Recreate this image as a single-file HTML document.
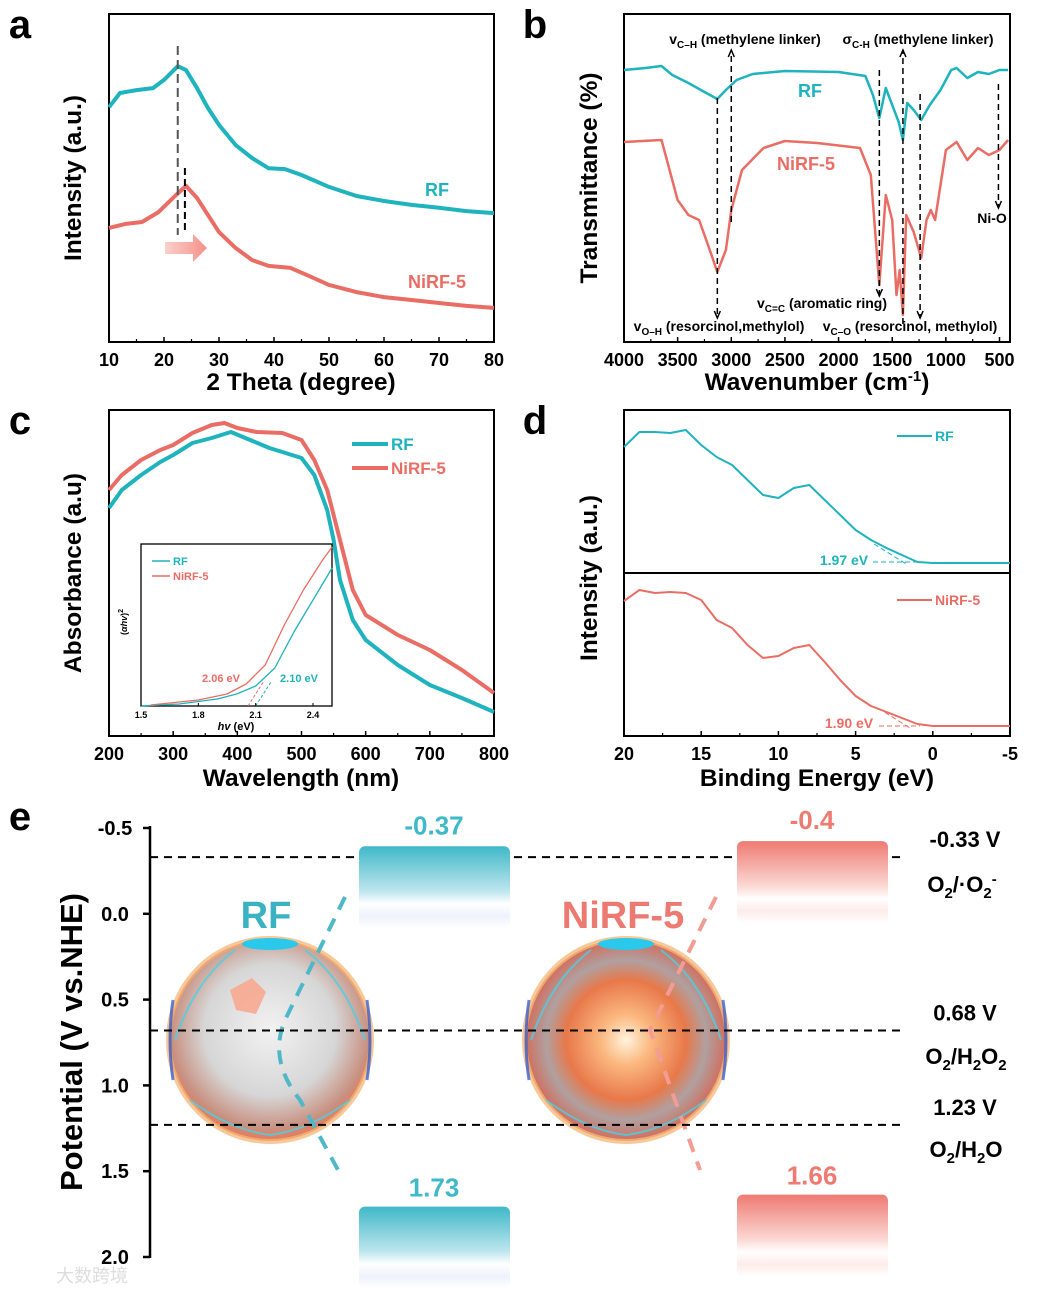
<!DOCTYPE html>
<html><head><meta charset="utf-8"><style>
html,body{margin:0;padding:0;background:#fff}
svg{display:block;font-family:"Liberation Sans",Arial,sans-serif}
</style></head><body>
<svg id="fig" width="1040" height="1293" viewBox="0 0 1040 1293" xmlns="http://www.w3.org/2000/svg">
<defs>
<linearGradient id="gTeal" x1="0" y1="0" x2="0" y2="1"><stop offset="0" stop-color="#3fb8c8"/><stop offset="0.55" stop-color="#bfe6ee"/><stop offset="0.7" stop-color="#ffffff"/><stop offset="0.85" stop-color="#eef2fb"/><stop offset="1" stop-color="#ffffff"/></linearGradient>
<linearGradient id="gRed" x1="0" y1="0" x2="0" y2="1"><stop offset="0" stop-color="#ee7a72"/><stop offset="0.55" stop-color="#fbd9d5"/><stop offset="0.7" stop-color="#ffffff"/><stop offset="0.85" stop-color="#fdecea"/><stop offset="1" stop-color="#ffffff"/></linearGradient>
<radialGradient id="gSph" cx="0.5" cy="0.45" r="0.55"><stop offset="0" stop-color="#f2f2f2"/><stop offset="0.6" stop-color="#d6d6d6"/><stop offset="0.9" stop-color="#c89080"/><stop offset="1" stop-color="#e87a5a"/></radialGradient>
<radialGradient id="gSph2" cx="0.5" cy="0.5" r="0.5"><stop offset="0" stop-color="#fff3dc"/><stop offset="0.25" stop-color="#fbb880"/><stop offset="0.6" stop-color="#e8784a"/><stop offset="0.8" stop-color="#b0a0a0"/><stop offset="1" stop-color="#d07060"/></radialGradient>
<linearGradient id="gArrow" x1="0" x2="1"><stop offset="0" stop-color="#fbd0cc"/><stop offset="1" stop-color="#f4918a"/></linearGradient>
</defs>
</svg>
<script>
// ---------- data (panel a: XRD) ----------
const xrdTheta = [10,12,15,18,20,22.5,24,26,28,30,33,36,39,42,45,50,55,60,65,70,75,80];
const xrdRF    = [71.6,75.9,76.8,77.4,79.9,84.1,82.9,77.4,71.3,66.2,60.1,56.1,53.0,52.7,50.9,47.3,44.5,43.0,41.8,40.9,39.9,39.3];
const xrdThetaN= [10,13,16,19,22,24,26,28,30,33,36,39,43,46,50,55,60,65,70,75,80];
const xrdNiRF  = [34.8,36.0,36.6,39.6,44.5,47.6,43.9,38.7,33.5,28.7,25.0,23.2,22.6,20.4,17.4,15.2,13.7,12.8,11.9,11.0,10.4];
const xrdTicks = [10,20,30,40,50,60,70,80];
// ---------- panel b: FTIR ----------
const irWnRF = [4000,3800,3650,3550,3400,3250,3130,3050,2950,2800,2500,2000,1750,1680,1620,1560,1500,1440,1400,1360,1300,1230,1150,1050,950,900,800,700,600,500,420];
const irRF   = [272,274,276,267,259,250,243,252,262,268,271,270,266,247,224,254,237,220,202,239,232,222,237,252,272,274,264,270,268,272,272];
const irWnN  = [4000,3650,3600,3500,3400,3300,3200,3130,3050,3000,2900,2700,2500,2200,1800,1700,1620,1560,1500,1460,1430,1400,1370,1300,1230,1180,1140,1100,1000,900,800,700,600,500,420];
const irNiRF = [200,202,182,142,127,122,92,70,92,132,172,194,201,199,194,167,57,147,122,47,72,27,127,110,84,122,132,122,192,200,182,194,187,192,202];
const irTicks = [4000,3500,3000,2500,2000,1500,1000,500];
// ---------- panel c: UV-vis ----------
const uvNm   = [200,220,250,280,300,330,360,390,420,450,470,500,520,540,550,560,580,600,650,700,750,800];
const uvRF   = [228,246,261,274,281,293,298,304,296,288,284,278,261,226,196,156,116,96,71,51,38,24];
const uvNmN  = [200,220,250,280,300,330,360,380,400,430,470,500,520,540,560,580,600,650,700,750,800];
const uvNiRF = [246,261,276,286,291,303,311,313,308,304,303,296,276,246,196,146,121,101,86,66,43];
const uvTicks = [200,300,400,500,600,700,800];
// inset Tauc
const taucE   = [1.5,1.7,1.9,2.0,2.1,2.2,2.3,2.4,2.5];
const taucRF  = [0,2,7,12,20,38,74,106,138];
const taucEN  = [1.55,1.8,1.95,2.05,2.15,2.25,2.35,2.45,2.5];
const taucNiRF= [1,6,12,22,41,81,116,146,159];
const taucTicks = [1.5,1.8,2.1,2.4];
// ---------- panel d: VB-XPS ----------
const xpsBE  = [20,19,18,17,16,15,14,13,12,11,10,9,8,7,6,5,4,3,2,1,0,-5];
const xpsRF  = [289,304,304,303,306,291,279,271,256,241,238,248,251,236,221,206,196,188,181,174,173,173];
const xpsNiRF= [135,146,143,144,143,136,116,108,91,78,80,88,91,74,56,40,30,24,18,12,10,10];
const xpsTicks = [20,15,10,5,0,-5];
// ---------- panel e: band structure ----------
const bandTicks = [-0.5,0.0,0.5,1.0,1.5,2.0];
const samples = ["RF","NiRF-5"];
const cbValues = [-0.37,-0.4];
const vbValues = [1.73,1.66];
const refPotentials = [-0.33,0.68,1.23];
const refLabels = ["-0.33 V","0.68 V","1.23 V"];

const NS="http://www.w3.org/2000/svg";
const svg=document.getElementById('fig');
function mk(tag,attrs,parent){const e=document.createElementNS(NS,tag);for(const k in attrs)e.setAttribute(k,attrs[k]);(parent||svg).appendChild(e);return e;}
function txt(s,x,y,size,opt,parent){opt=opt||{};const t=mk('text',{x:x,y:y,'font-size':size,'font-weight':opt.w||'bold','text-anchor':opt.a||'middle',fill:opt.c||'#000'},parent);if(opt.tr)t.setAttribute('transform',opt.tr);if(opt.html)t.innerHTML=s;else t.textContent=s;return t;}
function lin(d0,d1,r0,r1){return v=>r0+(v-d0)*(r1-r0)/(d1-d0);}
function line(xs,ys,sx,sy,color,w,name){const d=xs.map((x,i)=>(i?'L':'M')+sx(x).toFixed(1)+','+sy(ys[i]).toFixed(1)).join('');const p=mk('path',{d:d,fill:'none',stroke:color,'stroke-width':w,'stroke-linejoin':'round'});return p;}
const TEAL='#1fb3bd', RED='#e96d64';

function frame(x0,y0,x1,y1,name){const r=mk('rect',{x:x0,y:y0,width:x1-x0,height:y1-y0,fill:'none',stroke:'#000','stroke-width':2});}
function xticks(ticks,sx,yb,size,name,minor){ticks.forEach((t,i)=>{mk('line',{x1:sx(t),x2:sx(t),y1:yb,y2:yb-5,stroke:'#000','stroke-width':1.5});const l=txt(String(t),sx(t),yb+24,size);if(minor&&i<ticks.length-1){const m=(t+ticks[i+1])/2;mk('line',{x1:sx(m),x2:sx(m),y1:yb,y2:yb-3,stroke:'#000','stroke-width':1.2});}});}
function label(s,x,y,size,opt,name){const t=txt(s,x,y,size,opt);return t;}

// ===== panel a =====
(function(){const sx=lin(10,80,109,494), sy=lin(0,100,342,14);
frame(109,14,494,342,'panel-a-frame');
line(xrdTheta,xrdRF,sx,sy,TEAL,4,'xrd-rf-line');
line(xrdThetaN,xrdNiRF,sx,sy,RED,4,'xrd-nirf-line');
mk('line',{x1:sx(22.5),x2:sx(22.5),y1:46,y2:235,stroke:'#555','stroke-width':2,'stroke-dasharray':'9,5'});
mk('line',{x1:sx(23.8),x2:sx(23.8),y1:168,y2:232,stroke:'#000','stroke-width':2,'stroke-dasharray':'7,4'});
const ar=mk('path',{d:'M165,242 h28 v-8 l14,14 l-14,14 v-8 h-28 z',fill:'url(#gArrow)'});
xticks(xrdTicks,sx,342,18,'x-tick-label-a',true);
label('2 Theta (degree)',301,390,24.5,{},'x-axis-title-a');
label('Intensity (a.u.)',81,178,24.5,{tr:'rotate(-90 81 178)'},'y-axis-title-a');
label('RF',437,196,18,{c:TEAL},'label-rf-a');
label('NiRF-5',437,288,18,{c:RED},'label-nirf-a');
label('a',20,38,40,{},'panel-label-a');
})();

// ===== panel b =====
(function(){const sx=lin(4000,500,624,999.5), sy=lin(0,328,342,14);
frame(624,14,1010,342,'panel-b-frame');
line(irWnRF,irRF,sx,sy,TEAL,2.5,'ftir-rf-line');
line(irWnN,irNiRF,sx,sy,RED,2.5,'ftir-nirf-line');
const arrows=[[3130,98,318,'down'],[3000,222,50,'up'],[1620,70,296,'down'],[1400,324,50,'up'],[1240,94,318,'down'],[510,84,208,'down']];
arrows.forEach(a=>{const x=sx(a[0]);mk('line',{x1:x,x2:x,y1:a[1],y2:a[2],stroke:'#000','stroke-width':1.5,'stroke-dasharray':'6,4'});const y=a[2];const d=a[3]=='down'?`M${x-3},${y-7} L${x},${y} L${x+3},${y-7}`:`M${x-3},${y+7} L${x},${y} L${x+3},${y+7}`;mk('path',{d:d,fill:'none',stroke:'#000','stroke-width':1.5});});
xticks(irTicks,sx,342,18,'x-tick-label-b',true);
label('Wavenumber (cm<tspan font-size="15" dy="-9">-1</tspan><tspan dy="9">)</tspan>',817,390,24.5,{html:true},'x-axis-title-b');
label('Transmittance (%)',597,178,24.5,{tr:'rotate(-90 597 178)'},'y-axis-title-b');
label('RF',810,97,18,{c:TEAL},'label-rf-b');
label('NiRF-5',806,170,18,{c:RED},'label-nirf-b');
label('v<tspan font-size="10" dy="4">C–H</tspan><tspan dy="-4"> (methylene linker)</tspan>',745,44,14,{html:true},'annotation-ch-stretch');
label('σ<tspan font-size="10" dy="4">C-H</tspan><tspan dy="-4"> (methylene linker)</tspan>',918,44,14,{html:true},'annotation-ch-bend');
label('v<tspan font-size="10" dy="4">C=C</tspan><tspan dy="-4"> (aromatic ring)</tspan>',822,308,14,{html:true},'annotation-cc');
label('v<tspan font-size="10" dy="4">O–H</tspan><tspan dy="-4"> (resorcinol,methylol)</tspan>',719,331,14,{html:true},'annotation-oh');
label('v<tspan font-size="10" dy="4">C–O</tspan><tspan dy="-4"> (resorcinol, methylol)</tspan>',910,331,14,{html:true},'annotation-co');
label('Ni-O',992,223,14,{},'annotation-nio');
label('b',535,38,40,{},'panel-label-b');
})();

// ===== panel c =====
(function(){const sx=lin(200,800,109,494), sy=lin(0,326,736,410);
frame(109,410,494,736,'panel-c-frame');
line(uvNm,uvRF,sx,sy,TEAL,4,'uv-rf-line');
line(uvNmN,uvNiRF,sx,sy,RED,4,'uv-nirf-line');
xticks(uvTicks,sx,736,18,'x-tick-label-c',true);
label('Wavelength (nm)',301,786,24.5,{},'x-axis-title-c');
label('Absorbance (a.u)',81,573,24.5,{tr:'rotate(-90 81 573)'},'y-axis-title-c');
mk('line',{x1:352,x2:388,y1:444,y2:444,stroke:TEAL,'stroke-width':4});
label('RF',391,450,17,{a:'start',c:TEAL},'legend-rf-c');
mk('line',{x1:352,x2:388,y1:468,y2:468,stroke:RED,'stroke-width':4});
label('NiRF-5',391,474,17,{a:'start',c:RED},'legend-nirf-c');
label('c',20,434,40,{},'panel-label-c');
// inset
const r=mk('rect',{x:141,y:544,width:191,height:162,fill:'#fff',stroke:'#000','stroke-width':1.3});
const ix=lin(1.5,2.4,141,313), iy=lin(0,162,706,544);
line(taucE,taucRF,ix,iy,TEAL,1.3,'tauc-rf-line');
line(taucEN,taucNiRF,ix,iy,RED,1.3,'tauc-nirf-line');
mk('line',{x1:ix(2.06),x2:ix(2.14),y1:706,y2:682,stroke:RED,'stroke-width':1,'stroke-dasharray':'3,2'});
mk('line',{x1:ix(2.10),x2:ix(2.18),y1:706,y2:682,stroke:TEAL,'stroke-width':1,'stroke-dasharray':'3,2'});
taucTicks.forEach(t=>{mk('line',{x1:ix(t),x2:ix(t),y1:706,y2:703,stroke:'#000'});const l=txt(String(t),ix(t),718,9);});
label('<tspan font-style="italic">hv</tspan> (eV)',236,730,11,{html:true},'inset-x-title');
label('(<tspan font-style="italic">αhv</tspan>)<tspan font-size="7" dy="-4">2</tspan>',127,622,9,{html:true,tr:'rotate(-90 127 622)'},'inset-y-title');
mk('line',{x1:152,x2:170,y1:561,y2:561,stroke:TEAL,'stroke-width':1.5});
label('RF',173,565,11,{a:'start',c:TEAL},'inset-legend-rf');
mk('line',{x1:152,x2:170,y1:576,y2:576,stroke:RED,'stroke-width':1.5});
label('NiRF-5',173,580,11,{a:'start',c:RED},'inset-legend-nirf');
label('2.06 eV',221,682,11,{c:RED},'gap-label-nirf');
label('2.10 eV',299,682,11,{c:TEAL},'gap-label-rf');
})();

// ===== panel d =====
(function(){const sx=lin(20,-5,624,1010), sy=lin(0,326,736,410);
frame(624,410,1010,736,'panel-d-frame');
mk('line',{x1:624,x2:1010,y1:573,y2:573,stroke:'#000','stroke-width':2});
line(xpsBE,xpsRF,sx,sy,TEAL,2,'xps-rf-line');
line(xpsBE,xpsNiRF,sx,sy,RED,2,'xps-nirf-line');
mk('line',{x1:873,x2:920,y1:562,y2:562,stroke:TEAL,'stroke-width':1,'stroke-dasharray':'5,3'});
mk('line',{x1:874,x2:908,y1:544,y2:565,stroke:TEAL,'stroke-width':1,'stroke-dasharray':'5,3'});
mk('line',{x1:879,x2:920,y1:726,y2:726,stroke:RED,'stroke-width':1,'stroke-dasharray':'5,3'});
mk('line',{x1:878,x2:910,y1:708,y2:728,stroke:RED,'stroke-width':1,'stroke-dasharray':'5,3'});
label('1.97 eV',844,565,14,{c:TEAL},'vb-label-rf');
label('1.90 eV',849,728,14,{c:RED},'vb-label-nirf');
mk('line',{x1:897,x2:932,y1:436,y2:436,stroke:TEAL,'stroke-width':2});
label('RF',935,441,14,{a:'start',c:TEAL},'legend-rf-d');
mk('line',{x1:897,x2:932,y1:600,y2:600,stroke:RED,'stroke-width':2});
label('NiRF-5',935,605,14,{a:'start',c:RED},'legend-nirf-d');
xticks(xpsTicks,sx,736,18,'x-tick-label-d',true);
label('Binding Energy (eV)',817,786,24.5,{},'x-axis-title-d');
label('Intensity (a.u.)',597,578,24.5,{tr:'rotate(-90 597 578)'},'y-axis-title-d');
label('d',535,434,40,{},'panel-label-d');
})();

// ===== panel e =====
(function(){const sy=lin(-0.5,2.0,828,1257);
mk('line',{x1:150,x2:150,y1:826,y2:1258,stroke:'#000','stroke-width':2.5});
bandTicks.forEach(t=>{mk('line',{x1:143,x2:150,y1:sy(t),y2:sy(t),stroke:'#000','stroke-width':2.5});const l=txt(t.toFixed(1),115,sy(t)+7,20);});
label('Potential (V vs.NHE)',82,1042,31,{tr:'rotate(-90 82 1042)'},'y-axis-title-e');
label('e',20,830,40,{},'panel-label-e');
// spheres
const cx=[270,626];
cx.forEach((c,i)=>{const g=mk('g',{});
mk('ellipse',{cx:c,cy:1040,rx:104,ry:104,fill:'#f7c898'},g);
mk('ellipse',{cx:c,cy:1040,rx:100,ry:100,fill:i?'url(#gSph2)':'url(#gSph)',stroke:'#f0a870','stroke-width':2},g);
mk('ellipse',{cx:c,cy:944,rx:28,ry:6,fill:'#2ac8ea'},g);
mk('path',{d:`M${c-95},1040 q20,-60 60,-90 M${c+95},1040 q-20,-60 -60,-90 M${c-80},1100 q40,30 80,35 M${c+80},1100 q-40,30 -80,35`,fill:'none',stroke:'#46d2e6','stroke-width':2,opacity:0.8},g);
mk('path',{d:`M${c-97},1000 q-6,40 0,80 M${c+97},1000 q6,40 0,80`,fill:'none',stroke:'#2050d0','stroke-width':3,opacity:0.7},g);
});
mk('path',{d:'M230,990 l22,-12 l14,14 l-10,22 l-20,-4 z',fill:'#f7a890',opacity:0.9});
// dashed connectors
mk('path',{d:'M345,897 L285,1020 Q268,1060 300,1100 L338,1170',fill:'none',stroke:'#4fb8c8','stroke-width':4,'stroke-dasharray':'14,10'});
mk('path',{d:'M716,897 L650,1030 L700,1170',fill:'none',stroke:'#f29c94','stroke-width':4,'stroke-dasharray':'14,10'});
label('RF',266,928,38,{c:'#39b3c3'},'sample-label-rf');
label('NiRF-5',623,928,38,{c:'#ed7a72'},'sample-label-nirf');
// reference lines
refPotentials.forEach((p,i)=>{const l=mk('line',{x1:150,x2:905,y1:sy(p),y2:sy(p),stroke:'#000','stroke-width':2,'stroke-dasharray':'8,6'});
label(refLabels[i],965,sy(p)-10,22,{},'ref-potential-label');});
label('O<tspan font-size="15" dy="6">2</tspan><tspan dy="-6">/·O</tspan><tspan font-size="15" dy="6">2</tspan><tspan font-size="15" dy="-14">-</tspan>',962,892,22,{html:true},'ref-couple-superoxide');
label('O<tspan font-size="15" dy="6">2</tspan><tspan dy="-6">/H</tspan><tspan font-size="15" dy="6">2</tspan><tspan dy="-6">O</tspan><tspan font-size="15" dy="6">2</tspan>',966,1064,22,{html:true},'ref-couple-h2o2');
label('O<tspan font-size="15" dy="6">2</tspan><tspan dy="-6">/H</tspan><tspan font-size="15" dy="6">2</tspan><tspan dy="-6">O</tspan>',966,1157,22,{html:true},'ref-couple-h2o');
// band bars
const bx=[359,737], colors=['#3fb8c8','#ee7a72'], grads=['url(#gTeal)','url(#gRed)'];
samples.forEach((s,i)=>{
 const cb=mk('rect',{x:bx[i],y:sy(cbValues[i])-4,width:151,height:82,rx:6,fill:grads[i]});
 label(String(cbValues[i]),bx[i]+75,sy(cbValues[i])-16,26,{c:colors[i]},'cb-value-label');
 const vb=mk('rect',{x:bx[i],y:sy(vbValues[i])-4,width:151,height:82,rx:6,fill:grads[i]});
 label(vbValues[i].toFixed(2),bx[i]+75,sy(vbValues[i])-14,26,{c:colors[i]},'vb-value-label');
});
label('大数跨境',92,1282,18,{c:'#ddd',w:'normal'},'watermark');
})();
</script>
</body></html>
